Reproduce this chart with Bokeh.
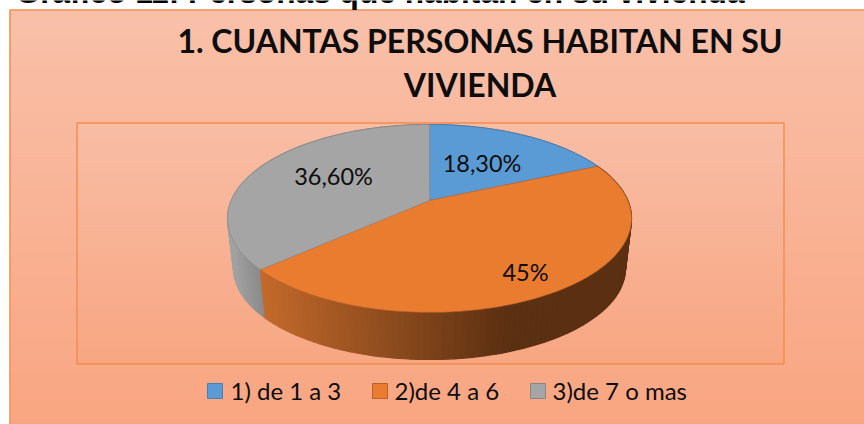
import math
from bokeh.plotting import figure
from bokeh.models import Range1d
from bokeh.core.properties import value
from bokeh.embed import file_html
from bokeh.resources import INLINE

# ---- data ----
heading = "Gráfico 11: Personas que habitan en su vivienda"
title_lines = ["1. CUANTAS PERSONAS HABITAN EN SU", "VIVIENDA"]
categories = ["1) de 1 a 3", "2)de 4 a 6", "3)de 7 o mas"]
shares = [18.3, 45.0, 36.6]
share_labels = ["18,30%", "45%", "36,60%"]

# ---- styles ----
COL = ["#5B9BD5", "#EA7C30", "#A5A5A5"]
EDGE = ["#4A7FB0", "#B9622A", "#868686"]
INK = "#0D0D0D"
FRAME = "#F28C4E"
W, H = 864, 424


def mix(a, b, t):
    t = max(0.0, min(1.0, t))
    ca = [int(a[i:i + 2], 16) for i in (1, 3, 5)]
    cb = [int(b[i:i + 2], 16) for i in (1, 3, 5)]
    return "#%02x%02x%02x" % tuple(round(x + (y - x) * t) for x, y in zip(ca, cb))


# perspective view of the pie disc
CX, CY = 429.0, 200.0
A, B, K = 198.3, 90.5, 0.191
WALL_S, WALL_CY = 0.97, 250.5


def project(theta, scale=1.0, cy=CY):
    u, v = math.sin(theta), math.cos(theta)
    w = 1 + K * v
    return CX + scale * A * u / w, cy - scale * B * v / w


def wall_colour(i, x):
    if i == 1:
        return mix("#C2692B", "#5C3012", (x - 262) / (505 - 262))
    if i == 2:
        return mix("#A2A2A2", "#858585", (x - 230) / (265 - 230))
    return "#3F6E99"


p = figure(width=W, height=H, output_backend="svg", toolbar_location=None,
           x_range=Range1d(0, W), y_range=Range1d(H, 0), min_border=0,
           x_axis_type=None, y_axis_type=None, outline_line_color=None,
           background_fill_color="white", border_fill_color="white",
           styles={"position": "absolute", "left": "0px", "top": "0px"})
p.grid.visible = False


def gradient(x0, x1, y0, y1, c0, c1):
    ys = list(range(y0, y1, 3))
    p.quad(left=[x0] * len(ys), right=[x1] * len(ys), top=ys,
           bottom=[min(y + 4, y1) for y in ys],
           fill_color=[mix(c0, c1, (y - y0) / (y1 - y0)) for y in ys], line_color=None)


# chart area and plot area
gradient(10, W, 10, H, "#F9C0A9", "#F9A581")
p.line([W + 5, 9.5, 9.5], [9.5, 9.5, H + 5], line_color=FRAME, line_width=1.6)
gradient(77, 783, 123, 363, "#F8BDA5", "#F8A682")
p.quad(left=[76.5], right=[783.5], top=[122.5], bottom=[363.5], fill_color=None,
       line_color=FRAME, line_width=1.4)

# heading cut by the top edge, and chart title
p.text([15], [-8.5], text=[heading], text_font=value("Liberation Sans"), text_font_style="bold",
       text_font_size="31.7px", text_color="black", text_baseline="alphabetic")
p.text([479.5, 479.5], [40, 84], text=title_lines, text_font=value("Lato"), text_font_style="bold",
       text_font_size="32px", text_color=INK, text_align="center", text_baseline="alphabetic")

# pie
total = sum(shares)
edges = [0.0]
for s in shares:
    edges.append(edges[-1] + s / total * 2 * math.pi)

# side wall, front part only
for i in (0, 2, 1):
    n = max(2, int((edges[i + 1] - edges[i]) / math.radians(1.5)))
    xs, ys, cs = [], [], []
    for j in range(n):
        t0 = edges[i] + (edges[i + 1] - edges[i]) * j / n
        t1 = edges[i] + (edges[i + 1] - edges[i]) * (j + 1) / n
        a0, a1 = project(t0), project(t1)
        b0, b1 = project(t0, WALL_S, WALL_CY), project(t1, WALL_S, WALL_CY)
        xs.append([a0[0], a1[0], b1[0], b0[0]])
        ys.append([a0[1], a1[1], b1[1], b0[1]])
        cs.append(wall_colour(i, (a0[0] + a1[0]) / 2))
    p.patches(xs, ys, fill_color=cs, line_color=cs, line_width=1.2)

# top surface
for i in range(3):
    n = 120
    ts = [edges[i] + (edges[i + 1] - edges[i]) * j / n for j in range(n + 1)]
    pts = [project(t) for t in ts]
    p.patch([CX] + [q[0] for q in pts], [CY] + [q[1] for q in pts],
            fill_color=COL[i], line_color=EDGE[i], line_width=0.6)

# data labels
p.text([481.5, 525, 333], [162, 271, 175], text=share_labels, text_font=value("Lato"),
       text_font_size="23.5px", text_color=INK, text_align="center", text_baseline="alphabetic")

# legend
sw_x = [207, 372, 530]
tx_x = [230, 394, 552]
p.quad(left=sw_x, right=[x + 15 for x in sw_x], top=[383] * 3, bottom=[398] * 3,
       fill_color=COL, line_color=EDGE, line_width=1)
p.text(tx_x, [390] * 3, text=categories, text_font=value("Lato"), text_font_size="24px",
       text_color=INK, text_baseline="alphabetic")

open("out.html", "w").write(file_html(p, INLINE))
